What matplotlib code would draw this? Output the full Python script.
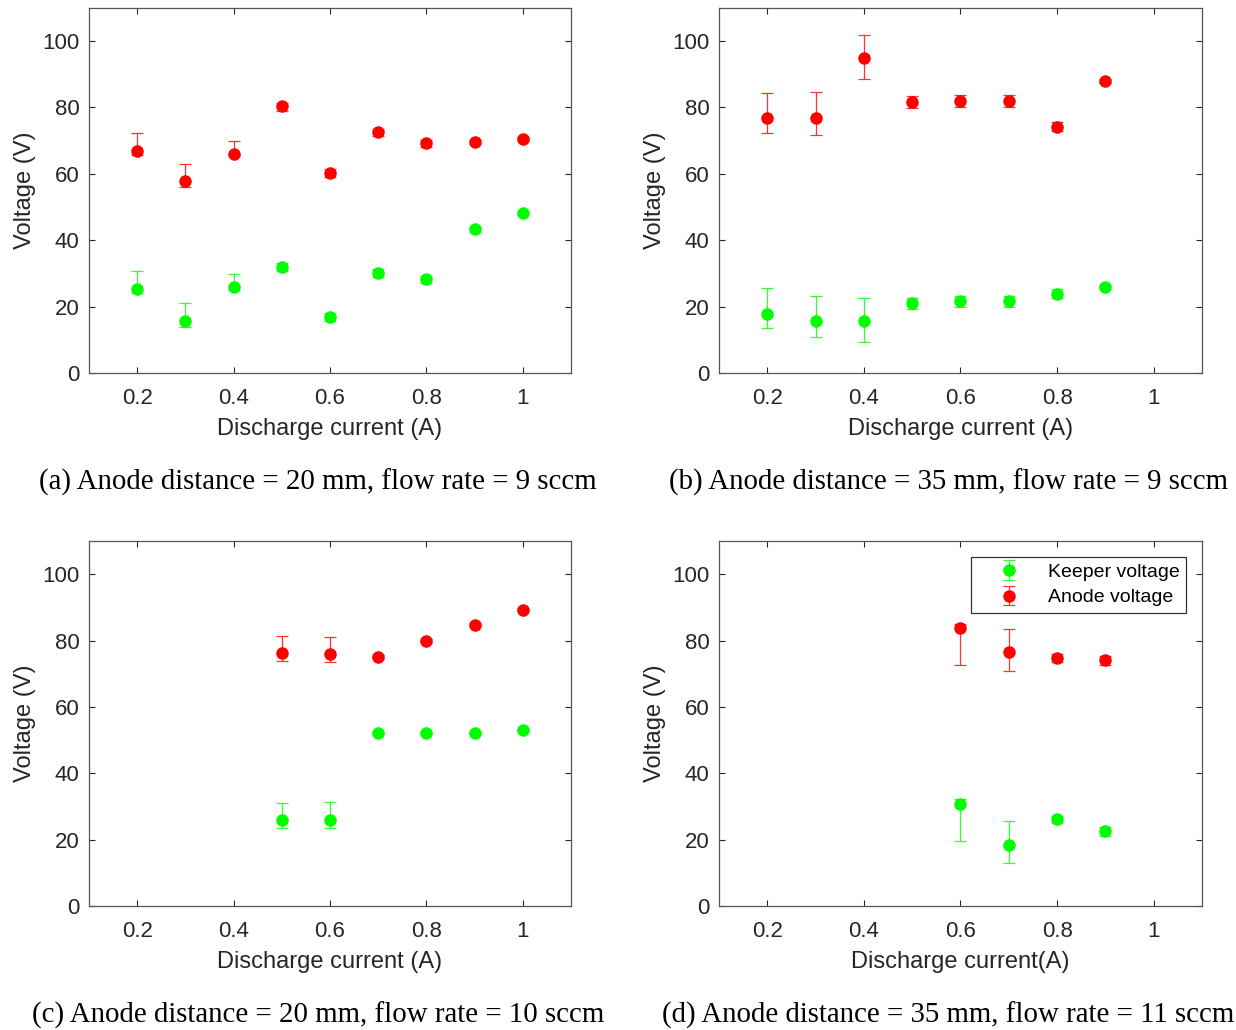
import matplotlib
matplotlib.use("Agg")
import matplotlib.pyplot as plt

# datos: corriente (A), tension (V), error inferior/superior
# (a) 20 mm, 9 sccm
a_x = [0.2, 0.3, 0.4, 0.5, 0.6, 0.7, 0.8, 0.9, 1.0]
a_anode = [67.0, 57.8, 65.9, 80.3, 60.2, 72.6, 69.3, 69.6, 70.6]
a_anode_lo = [1.2, 1.8, 0.6, 1.3, 1.2, 1.1, 1.1, 0.7, 0.5]
a_anode_hi = [5.4, 5.2, 4.0, 1.2, 1.2, 1.0, 1.0, 0.7, 0.5]
a_keeper = [25.4, 15.7, 26.0, 32.0, 17.0, 30.1, 28.2, 43.3, 48.1]
a_keeper_lo = [1.3, 1.8, 1.1, 1.3, 1.2, 1.2, 1.1, 0.8, 0.5]
a_keeper_hi = [5.3, 5.3, 3.9, 1.2, 1.1, 1.1, 1.0, 0.8, 0.5]

# (b) 35 mm, 9 sccm
b_x = [0.2, 0.3, 0.4, 0.5, 0.6, 0.7, 0.8, 0.9]
b_anode = [76.7, 76.9, 95.0, 81.8, 82.1, 82.1, 74.2, 88.1]
b_anode_lo = [4.4, 5.1, 6.4, 2.0, 2.0, 2.0, 1.3, 0.6]
b_anode_hi = [7.7, 7.7, 6.7, 1.7, 1.7, 1.6, 1.3, 0.6]
b_keeper = [17.8, 15.7, 15.7, 21.2, 21.8, 21.8, 23.9, 25.8]
b_keeper_lo = [4.3, 5.0, 6.3, 1.9, 1.9, 1.9, 1.4, 0.6]
b_keeper_hi = [7.7, 7.6, 6.8, 1.5, 1.5, 1.5, 1.3, 0.6]

# (c) 20 mm, 10 sccm
c_x = [0.5, 0.6, 0.7, 0.8, 0.9, 1.0]
c_anode = [76.3, 75.8, 75.1, 80.0, 84.8, 89.3]
c_anode_lo = [2.4, 2.4, 0.5, 0.4, 0.4, 0.5]
c_anode_hi = [5.1, 5.4, 0.5, 0.4, 0.4, 0.5]
c_keeper = [26.0, 25.8, 52.1, 52.1, 52.1, 53.0]
c_keeper_lo = [2.4, 2.4, 0.4, 0.4, 0.4, 0.4]
c_keeper_hi = [5.1, 5.5, 0.4, 0.4, 0.4, 0.4]

# (d) 35 mm, 11 sccm
d_x = [0.6, 0.7, 0.8, 0.9]
d_anode = [83.7, 76.5, 74.8, 74.1]
d_anode_lo = [11.2, 5.6, 1.2, 1.6]
d_anode_hi = [1.4, 7.1, 1.1, 1.2]
d_keeper = [30.8, 18.5, 26.2, 22.5]
d_keeper_lo = [11.1, 5.5, 1.2, 1.4]
d_keeper_hi = [1.3, 7.1, 1.0, 1.3]

captions = ["(a) Anode distance = 20 mm, flow rate = 9 sccm",
            "(b) Anode distance = 35 mm, flow rate = 9 sccm",
            "(c) Anode distance = 20 mm, flow rate = 10 sccm",
            "(d) Anode distance = 35 mm, flow rate = 11 sccm"]
xlabels = ["Discharge current (A)", "Discharge current (A)",
           "Discharge current (A)", "Discharge current(A)"]

paneles = [
    (a_x, a_keeper, a_keeper_lo, a_keeper_hi, a_anode, a_anode_lo, a_anode_hi),
    (b_x, b_keeper, b_keeper_lo, b_keeper_hi, b_anode, b_anode_lo, b_anode_hi),
    (c_x, c_keeper, c_keeper_lo, c_keeper_hi, c_anode, c_anode_lo, c_anode_hi),
    (d_x, d_keeper, d_keeper_lo, d_keeper_hi, d_anode, d_anode_lo, d_anode_hi),
]

plt.rcParams['font.family'] = ['Liberation Sans', 'DejaVu Sans']

fig = plt.figure(figsize=(12.36, 10.30), dpi=100)

# posiciones de los ejes (fraccion de figura)
pos = [[0.0720, 0.6379, 0.3900, 0.3544],
       [0.5817, 0.6379, 0.3908, 0.3544],
       [0.0720, 0.1204, 0.3900, 0.3544],
       [0.5817, 0.1204, 0.3908, 0.3544]]
cap_xy = [(0.257, 0.5185), (0.767, 0.5185), (0.257, 0.0005), (0.767, 0.0005)]

gris = '#262626'

for i, (x, kv, klo, khi, av, alo, ahi) in enumerate(paneles):
    ax = fig.add_axes(pos[i])
    ax.errorbar(x, kv, yerr=[klo, khi], fmt='o', color=(0, 1, 0), ecolor=(0.2, 1, 0.2),
                markersize=8, elinewidth=0.9, capsize=4.5, capthick=0.9,
                label='Keeper voltage')
    ax.errorbar(x, av, yerr=[alo, ahi], fmt='o', color=(1, 0, 0), ecolor=(1, 0.2, 0.2),
                markersize=8, elinewidth=0.9, capsize=4.5, capthick=0.9,
                label='Anode voltage')
    ax.set_xlim(0.1, 1.1)
    ax.set_ylim(0, 110)
    ax.set_xticks([0.2, 0.4, 0.6, 0.8, 1.0])
    ax.set_xticklabels(['0.2', '0.4', '0.6', '0.8', '1'])
    ax.set_yticks([0, 20, 40, 60, 80, 100])
    ax.tick_params(direction='in', top=True, right=True, length=4, width=0.8,
                   labelsize=16, colors=gris)
    ax.tick_params(axis='x', pad=11)
    ax.tick_params(axis='y', pad=7)
    for s in ax.spines.values():
        s.set_color('#555555')
        s.set_linewidth(0.9)
    ax.set_xlabel(xlabels[i], fontsize=17, color=gris, labelpad=6)
    ax.set_ylabel('Voltage (V)', fontsize=17, color=gris, labelpad=4)
    fig.text(cap_xy[i][0], cap_xy[i][1], captions[i], ha='center', va='bottom',
             fontsize=20.8, family=['Liberation Serif', 'DejaVu Serif'])
    if i == 3:
        leg = ax.legend(loc='upper right', fontsize=14, handlelength=3.2,
                        handletextpad=0.4, borderpad=0.35, labelspacing=0.4,
                        borderaxespad=0.8, fancybox=False, framealpha=1)
        leg.get_frame().set_edgecolor('#333333')
        leg.get_frame().set_linewidth(0.9)

plt.savefig('out.png', dpi=100)
